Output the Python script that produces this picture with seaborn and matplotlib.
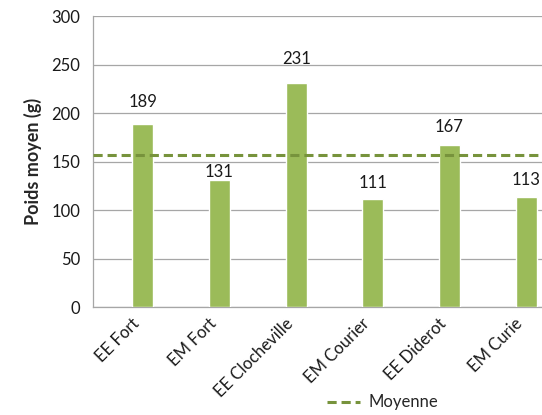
import pandas as pd
import matplotlib.pyplot as plt
import seaborn as sns

# Data
ecoles = ["EE Fort", "EM Fort", "EE Clocheville", "EM Courier", "EE Diderot", "EM Curie"]
poids = [189, 131, 231, 111, 167, 113]
moyenne = 157

df = pd.DataFrame({"ecole": ecoles, "poids": poids, "serie": "Poids"})

sns.set_style("white")
plt.rcParams['font.family'] = ['Lato', 'DejaVu Sans']

fig = plt.figure(figsize=(5.42, 4.15), dpi=100)
ax = fig.add_axes([0.1716, 0.2602, 0.8487, 0.7012])

# empty first series so the bars sit right of the category centre (as in Excel)
sns.barplot(data=df, x="ecole", y="poids", hue="serie", hue_order=["vide", "Poids"],
            palette={"vide": "#9BBB59", "Poids": "#9BBB59"}, width=0.6, gap=0.1,
            dodge=True, saturation=1, legend=False, ax=ax, zorder=3)

# Average line
ligne = ax.axhline(moyenne, color="#77933C", linestyle=(0, (3, 1.6)), linewidth=2.2,
                   zorder=4)

# Value labels (gap above bar in pixels, hand placed like the original)
label_gap = [17, 3, 19, 11, 13, 12]
for i, v in enumerate(poids):
    ax.annotate(str(v), (i + 0.15, v), xytext=(0, label_gap[i] * 0.72),
                textcoords="offset points", ha="center", va="baseline",
                fontsize=12, color="#1a1a1a")

ax.set_ylim(0, 300)
ax.set_xlim(-0.5, 5.5)
ax.set_yticks(range(0, 301, 50))
ax.yaxis.grid(True, color="#A6A6A6", linewidth=0.9, zorder=0)
ax.set_axisbelow(True)

for s in ["top", "right"]:
    ax.spines[s].set_visible(False)
for s in ["left", "bottom"]:
    ax.spines[s].set_color("#A6A6A6")
    ax.spines[s].set_linewidth(0.9)

ax.set_xticks(range(6))
ax.set_xticks([i - 0.5 for i in range(7)], minor=True)
ax.tick_params(axis="x", which="major", length=0, labelsize=12, pad=6,
               labelcolor="#1a1a1a")
ax.tick_params(axis="x", which="minor", length=5, color="#A6A6A6", direction="out")
ax.tick_params(axis="y", length=5, color="#A6A6A6", direction="out", labelsize=12,
               labelcolor="#1a1a1a", pad=4)
ax.set_xticklabels(ecoles, rotation=45, ha="right", rotation_mode="anchor")

ax.set_xlabel("")
ax.set_ylabel("Poids moyen (g)", fontsize=13, fontweight="bold", labelpad=7)

fig.legend(handles=[ligne], labels=["Moyenne"], loc="lower left",
           bbox_to_anchor=(0.575, -0.025), frameon=False, fontsize=12,
           handlelength=2.0, handletextpad=0.5)

fig.savefig("out.png", dpi=100)
